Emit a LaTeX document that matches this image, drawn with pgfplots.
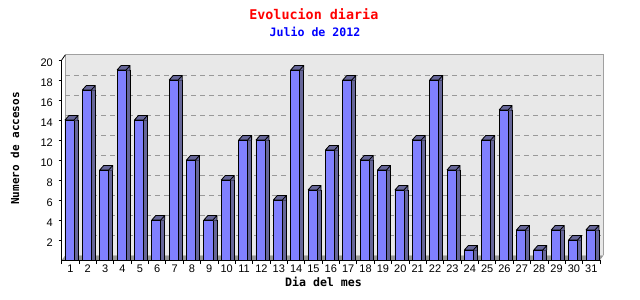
\documentclass[border=0pt]{standalone}
\usepackage{fontspec}
\setmainfont{Liberation Sans}
\newfontfamily\monob{DejaVu Sans Mono}
\usepackage{pgfplots}
\pgfplotsset{compat=1.18}
\usepackage{pgfplotstable}
\definecolor{frontc}{HTML}{8080FF}
\definecolor{sidec}{HTML}{666699}
\definecolor{wallc}{HTML}{E8E8E8}
\definecolor{framec}{HTML}{A0A0A0}
\definecolor{floorc}{HTML}{999999}
\definecolor{titlered}{HTML}{FF0000}
\definecolor{titleblue}{HTML}{0000FF}

\pgfdeclareplotmark{top3d}{%
  \pgfsetfillcolor{sidec}%
  \pgfpathmoveto{\pgfqpoint{-5.4bp}{0bp}}%
  \pgfpathlineto{\pgfqpoint{4.0bp}{0bp}}%
  \pgfpathlineto{\pgfqpoint{4.0bp}{-0.7bp}}%
  \pgfpathlineto{\pgfqpoint{7.2bp}{-0.7bp}}%
  \pgfpathlineto{\pgfqpoint{7.2bp}{0bp}}%
  \pgfpathlineto{\pgfqpoint{7.6bp}{0bp}}%
  \pgfpathlineto{\pgfqpoint{7.6bp}{4.5bp}}%
  \pgfpathlineto{\pgfqpoint{-1.4bp}{4.5bp}}%
  \pgfpathclose
  \pgfusepathqfill
  \pgfsetstrokecolor{black}%
  \pgfpathmoveto{\pgfqpoint{-5.4bp}{0bp}}%
  \pgfpathlineto{\pgfqpoint{-1.4bp}{4.5bp}}%
  \pgfpathlineto{\pgfqpoint{7.6bp}{4.5bp}}%
  \pgfpathlineto{\pgfqpoint{7.6bp}{0bp}}%
  \pgfpathmoveto{\pgfqpoint{3.6bp}{0bp}}%
  \pgfpathlineto{\pgfqpoint{7.6bp}{4.5bp}}%
  \pgfpathmoveto{\pgfqpoint{-5.4bp}{0bp}}%
  \pgfpathlineto{\pgfqpoint{3.6bp}{0bp}}%
  \pgfusepathqstroke
}

\pgfplotstableread{
day v
1 14
2 17
3 9
4 19
5 14
6 4
7 18
8 10
9 4
10 8
11 12
12 12
13 6
14 19
15 7
16 11
17 18
18 10
19 9
20 7
21 12
22 18
23 9
24 1
25 12
26 15
27 3
28 1
29 3
30 2
31 3
}\datatable

\begin{document}
\begin{tikzpicture}
\begin{axis}[
  at={(61.7bp,40bp)}, anchor=south west,
  scale only axis, width=538.3bp, height=200bp,
  xmin=0.5, xmax=31.5, ymin=0, ymax=20,
  set layers, clip=false,
  axis x line*=bottom, axis y line*=left,
  axis line style={-, line width=0.8bp, black},
  xtick={1,...,31},
  minor xtick={0.5,1.5,...,31.5},
  ytick={2,4,...,20},
  tick align=outside,
  major tick length=3bp, minor tick length=4bp,
  major x tick style={draw=none},
  minor x tick style={line width=0.8bp, black},
  major y tick style={line width=0.8bp, black},
  tick label style={font=\fontsize{11bp}{12bp}\selectfont},
  /pgf/number format/assume math mode=true,
  xticklabel style={inner sep=0pt, yshift=-2bp},
  yticklabel style={inner sep=0pt, xshift=-5.7bp, yshift=-3bp},
]
\begin{pgfonlayer}{axis background}
  \fill[wallc] ([shift={(3.5bp,4.5bp)}]axis cs:0.5,0) rectangle ([shift={(3.5bp,5bp)}]axis cs:31.5,20);
  \draw[framec, line width=1bp] ([shift={(3.5bp,4.5bp)}]axis cs:0.5,0) -- ([shift={(3.5bp,5bp)}]axis cs:0.5,20) -- ([shift={(3.5bp,5bp)}]axis cs:31.5,20) -- ([shift={(3.5bp,4.5bp)}]axis cs:31.5,0);
  \pgfplotsinvokeforeach{2,4,...,18}{
    \draw[floorc, line width=1bp, dash pattern=on 5bp off 4bp] ([shift={(3.5bp,4.5bp)}]axis cs:0.5,#1) -- ([shift={(3.5bp,4.5bp)}]axis cs:31.5,#1);
  }
  \fill[floorc] (axis cs:0.5,0) -- (axis cs:31.5,0) -- ([shift={(3.5bp,4.5bp)}]axis cs:31.5,0) -- ([shift={(3.5bp,4.5bp)}]axis cs:0.5,0) -- cycle;
  \draw[black, line width=0.8bp] (axis cs:0.5,20) -- ([shift={(3.5bp,5bp)}]axis cs:0.5,20);
\end{pgfonlayer}
\addplot[ybar, bar width=4bp, bar shift=5.6bp, fill=sidec, draw=black, line width=0.8bp] table[x=day,y=v]{\datatable};
\addplot[ybar, bar width=9bp, bar shift=-0.9bp, fill=frontc, draw=black, line width=0.8bp] table[x=day,y=v]{\datatable};
\addplot[only marks, mark=top3d, line width=0.8bp] table[x=day,y=v]{\datatable};
\end{axis}
\node[text=titlered, font=\monob\bfseries\fontsize{13.4bp}{15bp}\selectfont] at (313.8bp,286bp) {Evolucion diaria};
\node[text=titleblue, font=\monob\bfseries\fontsize{11.6bp}{13bp}\selectfont] at (315bp,268bp) {Julio de 2012};
\node[font=\monob\bfseries\fontsize{11.6bp}{13bp}\selectfont] at (323.5bp,18.3bp) {Dia del mes};
\node[rotate=90, font=\monob\bfseries\fontsize{11bp}{13bp}\selectfont] at (15bp,151.5bp) {Numero de accesos};
\pgfresetboundingbox
\useasboundingbox (0,0) rectangle (640bp,300bp);
\end{tikzpicture}
\end{document}
